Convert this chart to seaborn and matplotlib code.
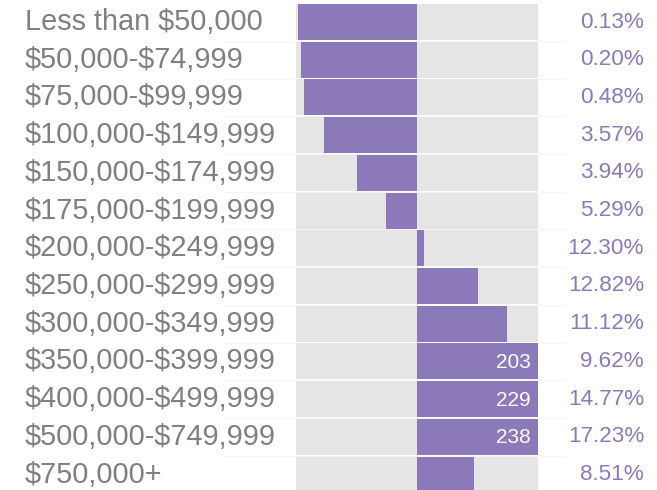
import numpy as np
import pandas as pd
import seaborn as sns
import matplotlib.pyplot as plt
import matplotlib.transforms as mtransforms

# income brackets, index vs. average (100 = average) and share of households
income_labels = ['Less than $50,000', '$50,000-$74,999', '$75,000-$99,999',
                 '$100,000-$149,999', '$150,000-$174,999', '$175,000-$199,999',
                 '$200,000-$249,999', '$250,000-$299,999', '$300,000-$349,999',
                 '$350,000-$399,999', '$400,000-$499,999', '$500,000-$749,999',
                 '$750,000+']
index_values = [2, 4, 7, 23, 50, 74, 106, 150, 174, 203, 229, 238, 147]
share_pct = [0.13, 0.20, 0.48, 3.57, 3.94, 5.29, 12.30, 12.82, 11.12, 9.62,
             14.77, 17.23, 8.51]

purple = '#8c79b9'
label_grey = '#808080'

sns.set_theme(style='white')
plt.rcParams['font.family'] = ['Liberation Sans', 'DejaVu Sans']
plt.rcParams['text.parse_math'] = False

df = pd.DataFrame({'bracket': income_labels,
                   'index': index_values,
                   'share': share_pct})
# bars diverge from the average (100) and are capped at 200
df['offset'] = np.clip(df['index'], 0, 200) - 100

fig = plt.figure(figsize=(6.57, 4.9), dpi=100)
ax = fig.add_axes([0, 0, 1, 1])

n = len(df)
# faint row separators
for i in range(n):
    ax.plot([-160, 122], [i + 0.5, i + 0.5], color='#f5f5f5', lw=1.0, zorder=0)

# grey track behind every row
ax.barh(np.arange(n), 200, left=-100, height=0.955, color='#e5e5e5',
        linewidth=0, zorder=1)

sns.barplot(data=df, x='offset', y='bracket', orient='h', color=purple,
            saturation=1, width=0.955, linewidth=0, ax=ax, zorder=2)

px = 1.21  # pixels per index unit
ax.set_xlim(-100 - 296 / px, 100 + (657 - 538) / px)
ax.set_ylim(12.41, -0.584)
ax.axis('off')

trans = mtransforms.blended_transform_factory(fig.transFigure, ax.transData)
for i, row in df.iterrows():
    ax.text(25 / 657, i, row['bracket'], transform=trans, ha='left',
            va='center', fontsize=20.8, color=label_grey, parse_math=False)
    ax.text(644 / 657, i, f"{row['share']:.2f}%", transform=trans,
            ha='right', va='center', fontsize=16.2, color=purple)
    if row['index'] > 200:
        ax.text(100 - 7 / px, i + 0.03, f"{row['index']}", ha='right',
                va='center', fontsize=15, color='white', zorder=3)

fig.savefig('out.png', dpi=100)
